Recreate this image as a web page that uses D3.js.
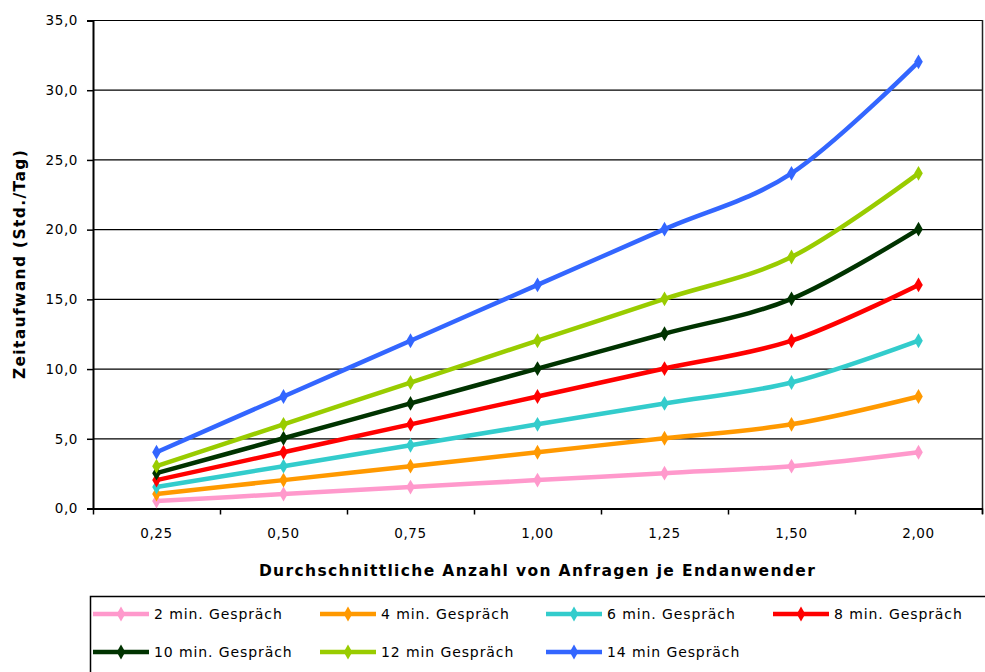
<!DOCTYPE html>
<html>
<head>
<meta charset="utf-8">
<script src="https://cdn.jsdelivr.net/npm/d3@7"></script>
<style>
  html, body { margin: 0; padding: 0; background: #fff; }
  svg { display: block; }
  text { font-family: "DejaVu Sans", "Liberation Sans", sans-serif; fill: #000; }
</style>
</head>
<body>
<svg id="chart" width="985" height="672"></svg>
<script>
// Average requests per end user (categories on the x axis)
const categories = ["0,25", "0,50", "0,75", "1,00", "1,25", "1,50", "2,00"];

// Hours per day for each call duration
const seriesNames = [
  "2 min. Gespräch", "4 min. Gespräch", "6 min. Gespräch", "8 min. Gespräch",
  "10 min. Gespräch", "12 min Gespräch", "14 min Gespräch"
];
const values2  = [0.5, 1, 1.5, 2, 2.5, 3, 4];
const values4  = [1, 2, 3, 4, 5, 6, 8];
const values6  = [1.5, 3, 4.5, 6, 7.5, 9, 12];
const values8  = [2, 4, 6, 8, 10, 12, 16];
const values10 = [2.5, 5, 7.5, 10, 12.5, 15, 20];
const values12 = [3, 6, 9, 12, 15, 18, 24];
const values14 = [4, 8, 12, 16, 20, 24, 32];
const seriesColors = ["#ff99cc", "#ff9900", "#33cccc", "#ff0000", "#003300", "#99cc00", "#3366ff"];

const yTicks = [0, 5, 10, 15, 20, 25, 30, 35];

const xTitle = "Durchschnittliche Anzahl von Anfragen je Endanwender";
const yTitle = "Zeitaufwand (Std./Tag)";

const series = [values2, values4, values6, values8, values10, values12, values14]
  .map((vals, i) => ({ name: seriesNames[i], color: seriesColors[i], values: vals }));

const svg = d3.select("#chart");
const plot = { left: 93, right: 982, top: 20, bottom: 508 };

const x = d3.scaleBand().domain(categories).range([plot.left, plot.right]);
const xEdge = d3.scaleLinear().domain([0, categories.length]).range([plot.left, plot.right]);
const y = d3.scaleLinear().domain([0, 35]).range([plot.bottom, plot.top]);

// Horizontal gridlines
svg.append("g")
  .selectAll("line")
  .data(yTicks.filter(d => d > 0))
  .join("line")
  .attr("x1", plot.left).attr("x2", plot.right)
  .attr("y1", d => y(d) + 0.5).attr("y2", d => y(d) + 0.5)
  .attr("stroke", "#000").attr("stroke-width", 1.2);

// Right border of the plot area
svg.append("line")
  .attr("x1", plot.right + 0.5).attr("x2", plot.right + 0.5)
  .attr("y1", plot.top).attr("y2", plot.bottom + 6)
  .attr("stroke", "#222").attr("stroke-width", 1.5);

// Y axis
const yAxis = svg.append("g")
  .attr("transform", `translate(${plot.left},0.5)`)
  .call(d3.axisLeft(y).tickValues(yTicks)
    .tickFormat(d => d.toFixed(1).replace(".", ","))
    .tickSize(6).tickPadding(9));
yAxis.select(".domain").attr("stroke", "#000").attr("stroke-width", 2);
yAxis.selectAll(".tick line").attr("stroke", "#000").attr("stroke-width", 1.5);
yAxis.selectAll("text").attr("font-size", 13.5).attr("letter-spacing", 0.6)
  .style("font-family", "DejaVu Sans");

// X axis: tick marks between categories, labels centred on each category
const xTickAxis = svg.append("g")
  .attr("transform", `translate(0,${plot.bottom + 0.5})`)
  .call(d3.axisBottom(xEdge).tickValues(d3.range(categories.length + 1))
    .tickFormat("").tickSize(6).tickSizeOuter(0));
xTickAxis.select(".domain").attr("stroke", "#000").attr("stroke-width", 2);
xTickAxis.selectAll(".tick line").attr("stroke", "#000").attr("stroke-width", 1.5);

const xLabelAxis = svg.append("g")
  .attr("transform", `translate(0,${plot.bottom})`)
  .call(d3.axisBottom(x).tickSize(0).tickPadding(20));
xLabelAxis.select(".domain").remove();
xLabelAxis.selectAll("text").attr("font-size", 13.5).attr("letter-spacing", 0.6)
  .style("font-family", "DejaVu Sans");

// Axis titles
svg.append("text")
  .attr("x", (plot.left + plot.right) / 2).attr("y", 576)
  .attr("text-anchor", "middle")
  .attr("font-size", 15.5).attr("font-weight", "bold")
  .attr("letter-spacing", 1.35)
  .text(xTitle);

svg.append("text")
  .attr("transform", `translate(25,${(plot.top + plot.bottom) / 2}) rotate(-90)`)
  .attr("text-anchor", "middle")
  .attr("font-size", 15.5).attr("font-weight", "bold")
  .attr("letter-spacing", 1.35)
  .text(yTitle);

// Series lines with diamond markers
const line = d3.line()
  .x((d, i) => x(categories[i]) + x.bandwidth() / 2)
  .y(d => y(d))
  .curve(d3.curveCatmullRom.alpha(0));

const diamond = d3.symbol().type(d3.symbolDiamond).size(64);

const lines = svg.append("g");
series.forEach(s => {
  const g = lines.append("g");
  g.append("path")
    .attr("d", line(s.values))
    .attr("fill", "none")
    .attr("stroke", s.color)
    .attr("stroke-width", 4.5)
    .attr("stroke-linejoin", "round");
  g.selectAll("path.marker")
    .data(s.values)
    .join("path")
    .attr("class", "marker")
    .attr("transform", (d, i) => `translate(${x(categories[i]) + x.bandwidth() / 2},${y(d)})`)
    .attr("d", diamond)
    .attr("fill", s.color);
});

// Legend
const legend = svg.append("g");
legend.append("rect")
  .attr("x", 90.5).attr("y", 596.5)
  .attr("width", 1000).attr("height", 200)
  .attr("fill", "#fff").attr("stroke", "#000").attr("stroke-width", 1.5);

const colX = [93, 320, 546, 773];
const rowY = [614, 652];
series.forEach((s, i) => {
  const cx = colX[i % 4];
  const cy = rowY[Math.floor(i / 4)];
  const item = legend.append("g").attr("transform", `translate(${cx},${cy})`);
  item.append("line")
    .attr("x1", 0).attr("x2", 56).attr("y1", 0).attr("y2", 0)
    .attr("stroke", s.color).attr("stroke-width", 4.5);
  item.append("path")
    .attr("transform", "translate(28,0)")
    .attr("d", diamond)
    .attr("fill", s.color);
  item.append("text")
    .attr("x", 61).attr("y", 0).attr("dy", "0.36em")
    .attr("font-size", 14).attr("letter-spacing", 0.9)
    .text(s.name);
});
</script>
</body>
</html>
